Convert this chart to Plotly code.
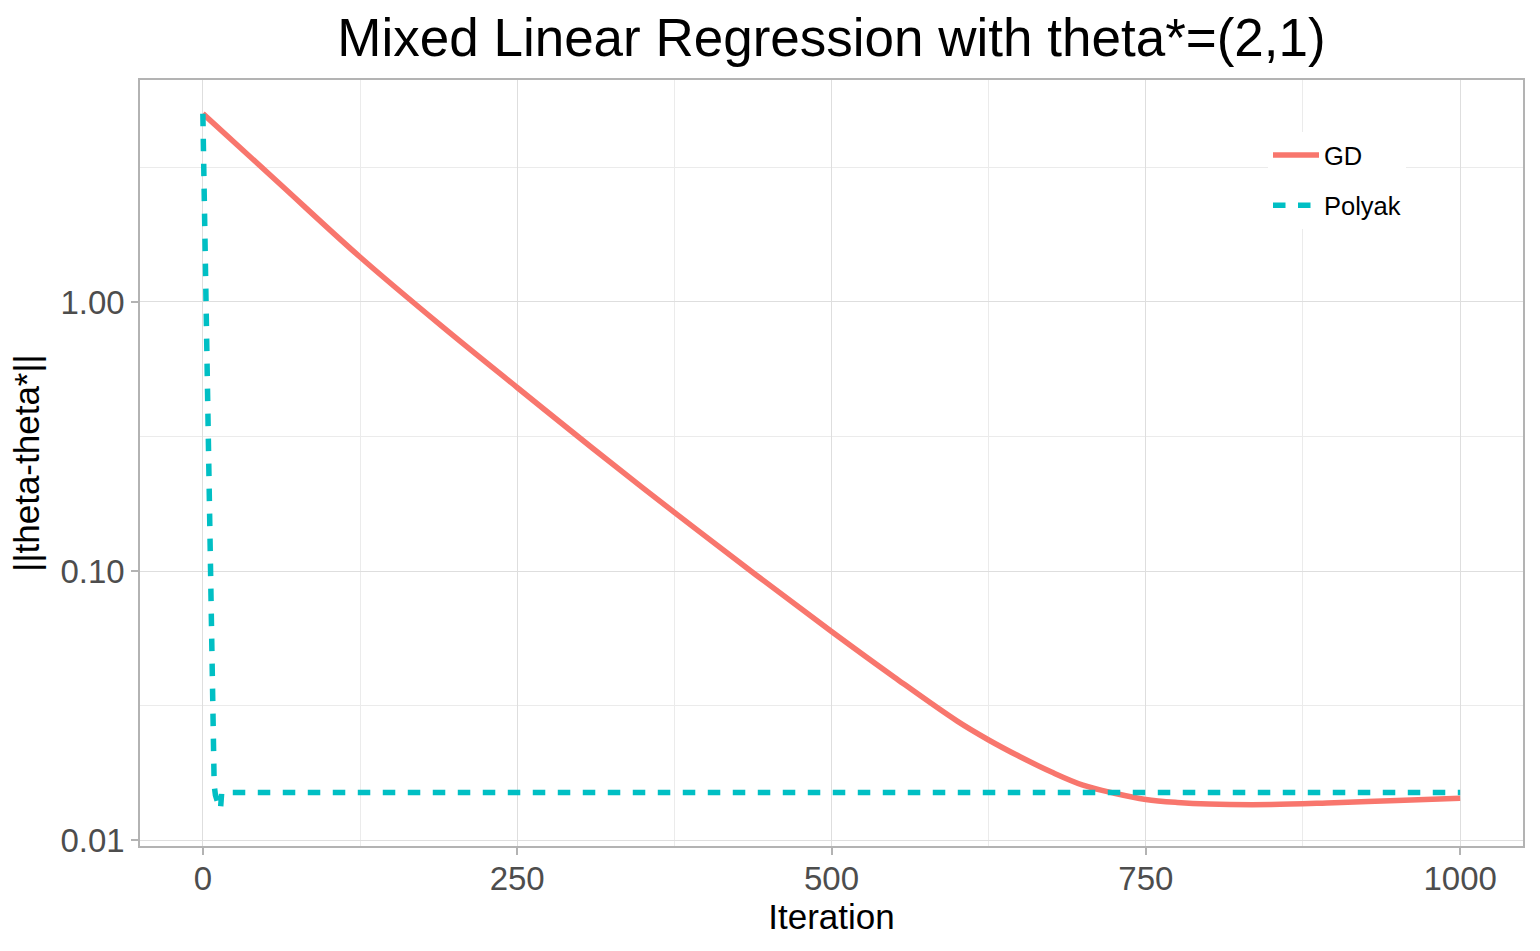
import plotly.graph_objects as go

# ---- data ----
gd_iter = [0, 60, 125, 190, 250, 310, 375, 440, 500, 550, 600, 625, 650, 675,
           700, 725, 750, 775, 800, 850, 900, 950, 1000]
gd_err = [5.012, 2.78, 1.469, 0.813, 0.481, 0.286, 0.1652, 0.0967, 0.0596, 0.0403,
          0.02767, 0.02355, 0.0204, 0.0179, 0.0160, 0.01493, 0.01416, 0.0138,
          0.01361, 0.01355, 0.01377, 0.01403, 0.01429]

polyak_iter = [0, 1, 2, 3, 4, 5, 6, 7, 8, 9, 10, 11, 12, 13, 14, 15, 1000]
polyak_err = [5.01, 2.51, 1.26, 0.63, 0.316, 0.158, 0.0794, 0.0398, 0.0230, 0.0160,
              0.0147, 0.0140, 0.0135, 0.0132, 0.0130, 0.01504, 0.01504]

x_ticks = [0, 250, 500, 750, 1000]
x_minor = [125, 375, 625, 875]
y_ticks = [0.01, 0.1, 1.0]
y_ticktext = ["0.01", "0.10", "1.00"]
y_minor = [0.0316228, 0.316228, 3.16228]

GD_COLOR = "#F8766D"
POLYAK_COLOR = "#00BFC4"
FONT = "Liberation Sans, Arial, Helvetica, sans-serif"

fig = go.Figure()
fig.add_trace(go.Scatter(
    x=gd_iter, y=gd_err, mode="lines", name="GD", legendgroup="GD",
    line=dict(color=GD_COLOR, width=5.5, shape="spline", smoothing=1.0),
))
fig.add_trace(go.Scatter(
    x=polyak_iter, y=polyak_err, mode="lines", name="Polyak", legendgroup="Polyak",
    line=dict(color=POLYAK_COLOR, width=5.5, dash="12.5px,12.5px"),
))

axis_common = dict(
    showline=True, linecolor="#B3B3B3", linewidth=1.5, mirror=True,
    gridcolor="#DEDEDE", gridwidth=1.3,
    ticks="outside", ticklen=7, tickwidth=1.5, tickcolor="#B3B3B3",
    tickfont=dict(family=FONT, size=33, color="#4D4D4D"),
    zeroline=False,
)

fig.update_xaxes(
    range=[-50, 1050], tickmode="array", tickvals=x_ticks,
    ticklabelstandoff=-4,
    title=dict(text="Iteration", font=dict(family=FONT, size=35, color="#000000"), standoff=5),
    minor=dict(tickmode="array", tickvals=x_minor, showgrid=True,
               gridcolor="#EBEBEB", gridwidth=0.8, ticks=""),
    **axis_common,
)
fig.update_yaxes(
    type="log", range=[-2.022, 0.825], tickmode="array",
    tickvals=y_ticks, ticktext=y_ticktext,
    title=dict(text="||theta-theta*||", font=dict(family=FONT, size=35, color="#000000"), standoff=10),
    minor=dict(tickmode="array", tickvals=y_minor, showgrid=True,
               gridcolor="#EBEBEB", gridwidth=0.8, ticks=""),
    **axis_common,
)

fig.update_layout(
    width=1540, height=951,
    margin=dict(l=140, r=17, t=80, b=105),
    paper_bgcolor="white", plot_bgcolor="white",
    title=dict(text="Mixed Linear Regression with theta*=(2,1)",
               font=dict(family=FONT, size=53, color="#000000"),
               x=0.5, xref="paper", xanchor="center",
               y=1 - 37 / 951, yref="container", yanchor="middle"),
    legend=dict(
        x=(1268 - 140) / 1383, xanchor="left", y=(846 - 132) / 766, yanchor="top",
        bgcolor="white", borderwidth=0,
        font=dict(family=FONT, size=25.5, color="#000000"),
        tracegroupgap=14, itemwidth=46,
    ),
    showlegend=True,
)

fig.write_html("out.html", config={"displayModeBar": False},
               post_script="document.body.style.margin='0px';")
